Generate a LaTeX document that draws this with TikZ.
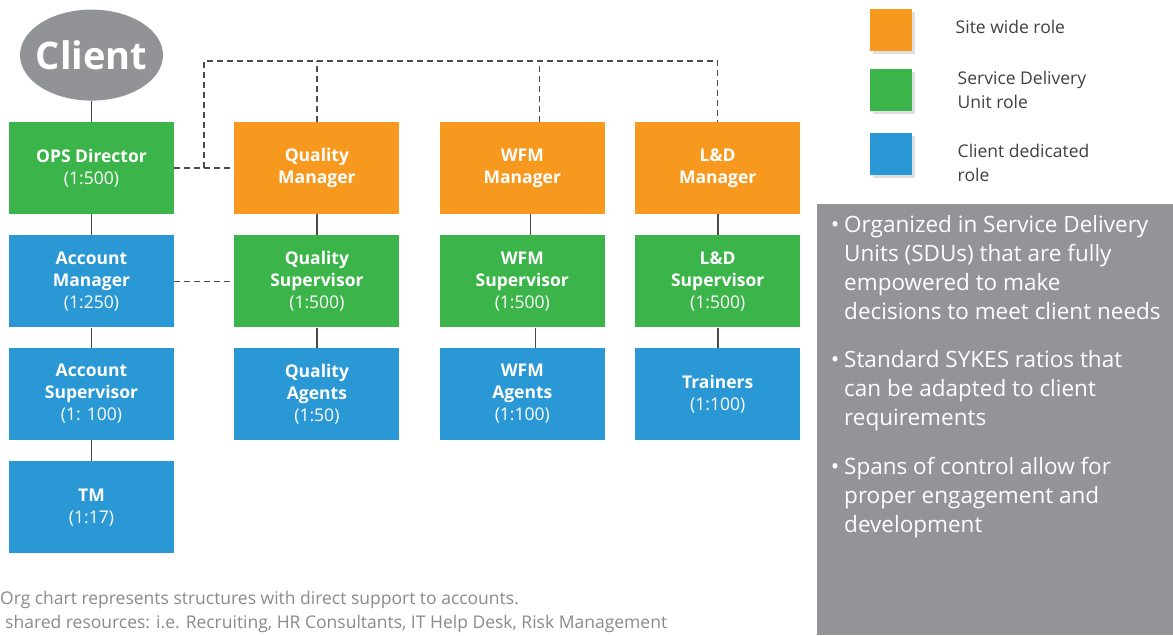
\documentclass[tikz,border=0pt]{standalone}
\usepackage{fontspec}
\setmainfont{Open Sans}
\usepackage{xcolor}
\usetikzlibrary{positioning,shapes.geometric,shadows}

\definecolor{siteorange}{HTML}{F7981F}
\definecolor{sdugreen}{HTML}{3BB54A}
\definecolor{clientblue}{HTML}{2998D5}
\definecolor{clientgray}{HTML}{929397}
\definecolor{panelgray}{HTML}{939498}
\definecolor{linegray}{HTML}{4A4A4A}
\definecolor{notegray}{HTML}{8A8A8A}

\newcommand{\pointdot}{\llap{•\hspace{5pt}}}

\begin{document}
\begin{tikzpicture}[
    x=1pt, y=1pt,
    node distance=21pt and 60pt,
    role/.style={
        minimum width=165pt,
        minimum height=92pt,
        inner sep=2pt,
        align=center,
        text=white,
        font=\fontsize{17.5}{22}\selectfont
    },
    siterole/.style={role, fill=siteorange},
    sdurole/.style={role, fill=sdugreen},
    clientrole/.style={role, fill=clientblue},
    legendbox/.style={
        minimum size=42pt,
        inner sep=0pt,
        drop shadow={shadow xshift=3pt, shadow yshift=-3pt, opacity=0.25}
    },
    legendtext/.style={
        anchor=west,
        align=left,
        text=black!75,
        font=\fontsize{17.5}{24}\selectfont
    },
    bullet/.style={
        anchor=north west,
        align=left,
        inner sep=0pt,
        text=white,
        font=\fontsize{22.5}{29}\selectfont
    },
    note/.style={
        anchor=west,
        inner sep=0pt,
        text=notegray,
        font=\fontsize{17.5}{20}\selectfont
    },
    link/.style={draw=linegray, line width=1.6pt},
    dashlink/.style={draw=linegray, line width=1.4pt, dash pattern=on 6pt off 4pt}
]
\useasboundingbox (0,0) rectangle (1173,-635);

% chart
\node[sdurole] (opsdir) at (91.5,-168) {\textbf{OPS Director}\\(1:500)};
\node[clientrole, below=of opsdir] (accmgr) {\textbf{Account}\\\textbf{Manager}\\(1:250)};
\node[clientrole, below=20pt of accmgr] (accsup) {\textbf{Account}\\\textbf{Supervisor}\\(1: 100)};
\node[clientrole, below=of accsup] (tm) {\textbf{TM}\\(1:17)};
\node[ellipse, fill=clientgray, minimum width=143pt, minimum height=91pt, inner sep=0pt, above=of opsdir,
      label={[text=white, font=\bfseries\fontsize{38}{38}\selectfont]center:Client}] (client) {};

\node[siterole, right=of opsdir] (qualmgr) {\textbf{Quality}\\\textbf{Manager}};
\node[sdurole, below=of qualmgr] (qualsup) {\textbf{Quality}\\\textbf{Supervisor}\\(1:500)};
\node[clientrole, below=20pt of qualsup] (qualagt) {\textbf{Quality}\\\textbf{Agents}\\(1:50)};

\node[siterole, right=40pt of qualmgr] (wfmmgr) {\textbf{WFM}\\\textbf{Manager}};
\node[sdurole, below=of wfmmgr] (wfmsup) {\textbf{WFM}\\\textbf{Supervisor}\\(1:500)};
\node[clientrole, below=20pt of wfmsup] (wfmagt) {\textbf{WFM}\\\textbf{Agents}\\(1:100)};

\node[siterole, right=30pt of wfmmgr] (ldmgr) {\textbf{L\&D}\\\textbf{Manager}};
\node[sdurole, below=of ldmgr] (ldsup) {\textbf{L\&D}\\\textbf{Supervisor}\\(1:500)};
\node[clientrole, below=20pt of ldsup] (trainers) {\textbf{Trainers}\\(1:100)};

% reporting lines
\draw[link] (client) -- (opsdir);
\draw[link] (opsdir) -- (accmgr);
\draw[link] (accmgr) -- (accsup);
\draw[link] (accsup) -- (tm);
\draw[link] (qualmgr) -- (qualsup);
\draw[link] (qualsup) -- (qualagt);
\draw[link] ([xshift=8pt]wfmmgr.south) -- ([xshift=8pt]wfmsup.north);
\draw[link] ([xshift=13pt]wfmsup.south) -- ([xshift=13pt]wfmagt.north);
\draw[link] (ldmgr) -- (ldsup);
\draw[link] (ldsup) -- (trainers);

% dotted support lines
\coordinate (busleft) at (204,-61);
\coordinate (busright) at (ldmgr.north |- busleft);
\draw[dashlink] (opsdir.east) -- (qualmgr.west);
\draw[dashlink] (busleft |- opsdir.east) -- (busleft) -- (busright) -- (ldmgr.north);
\draw[dashlink] (qualmgr.north) -- (qualmgr.north |- busleft);
\draw[dashlink] ([xshift=17pt]wfmmgr.north) -- ([xshift=17pt]wfmmgr.north |- busleft);
\draw[dashlink] (accmgr.east) -- (qualsup.west);

% legend
\node[legendbox, fill=siteorange] (legsite) at (891,-30) {};
\node[legendbox, fill=sdugreen, below=18pt of legsite] (legsdu) {};
\node[legendbox, fill=clientblue, below=21pt of legsdu] (legclient) {};
\node[legendtext, right=40pt of legsite, yshift=3pt] (legsitetxt) {Site wide role};
\node[legendtext, right=42pt of legsdu] (legsdutxt) {Service Delivery\\Unit role};
\node[legendtext, right=42pt of legclient, yshift=-9pt] (legclienttxt) {Client dedicated\\role};

% panel
\node[fill=panelgray, anchor=north west, minimum width=356pt, minimum height=431pt, inner sep=0pt] (panel) at (817,-204) {};
\node[bullet] (pointa) at (844,-215) {\pointdot Organized in Service Delivery\\Units (SDUs) that are fully\\empowered to make\\decisions to meet client needs};
\node[bullet, below=30pt of pointa.south west, anchor=north west] (pointb) {\pointdot Standard SYKES ratios that\\can be adapted to client\\requirements};
\node[bullet, below=26pt of pointb.south west, anchor=north west] (pointc) {\pointdot Spans of control allow for\\proper engagement and\\development};

% notes
\node[note] (notea) at (0,-600) {Org chart represents structures with direct support to accounts.};
\node[note] (noteb) at (5,-624) {shared resources: i.e. Recruiting, HR Consultants, IT Help Desk, Risk Management};
\end{tikzpicture}
\end{document}
